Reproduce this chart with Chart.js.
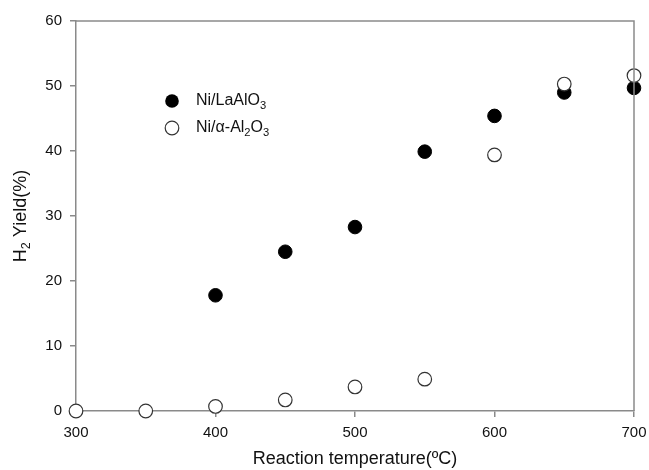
<!DOCTYPE html>
<html>
<head>
<meta charset="utf-8">
<script src="https://cdn.jsdelivr.net/npm/chart.js@4"></script>
<style>
  body { margin: 0; background: #fff; }
  #wrap { width: 649px; height: 470px; }
</style>
</head>
<body>
<div id="wrap"><canvas id="yieldChart" width="649" height="470"></canvas></div>
<script>
// temperatures (ºC) and H2 yield (%) for both catalysts
const tempsLa = [400, 450, 500, 550, 600, 650, 700];
const yieldLa = [17.8, 24.5, 28.3, 39.9, 45.4, 49.0, 49.7];

const tempsAl = [300, 350, 400, 450, 500, 550, 600, 650, 700];
const yieldAl = [0, 0, 0.7, 1.7, 3.7, 4.9, 39.4, 50.3, 51.6];

const xTicks = [300, 400, 500, 600, 700];
const yTicks = [0, 10, 20, 30, 40, 50, 60];

const FONT = "'Liberation Sans', Arial, sans-serif";
const AXIS = '#8a8a8a';

// text with subscripts: parts = [[text, isSub], ...]
function drawRich(ctx, parts, x, y, size) {
    let cx = x;
    parts.forEach(([t, sub]) => {
        ctx.font = (sub ? size * 0.7 : size) + 'px ' + FONT;
        ctx.fillText(t, cx, sub ? y + size * 0.3 : y);
        cx += ctx.measureText(t).width;
    });
    return cx - x;
}
function richWidth(ctx, parts, size) {
    let w = 0;
    parts.forEach(([t, sub]) => {
        ctx.font = (sub ? size * 0.7 : size) + 'px ' + FONT;
        w += ctx.measureText(t).width;
    });
    return w;
}

const extras = {
    id: 'extras',
    afterDraw(chart) {
        const ctx = chart.ctx;
        const a = chart.chartArea;
        ctx.save();
        // box top + right
        ctx.strokeStyle = AXIS;
        ctx.lineWidth = 1.5;
        ctx.beginPath();
        ctx.moveTo(a.left, a.top);
        ctx.lineTo(a.right, a.top);
        ctx.lineTo(a.right, a.bottom);
        ctx.stroke();

        // legend
        const lx = 172, ly = [101, 128];
        ctx.lineWidth = 1.2;
        ctx.beginPath(); ctx.arc(lx, ly[0], 6.8, 0, Math.PI * 2);
        ctx.fillStyle = '#000'; ctx.fill();
        ctx.beginPath(); ctx.arc(lx, ly[1], 6.8, 0, Math.PI * 2);
        ctx.fillStyle = '#fff'; ctx.fill(); ctx.strokeStyle = '#333'; ctx.stroke();
        ctx.fillStyle = '#111';
        ctx.textBaseline = 'middle';
        drawRich(ctx, [['Ni/LaAlO', false], ['3', true]], 196, ly[0], 16);
        drawRich(ctx, [['Ni/\u03B1-Al', false], ['2', true], ['O', false], ['3', true]], 196, ly[1], 16);

        // y title
        const yParts = [['H', false], ['2', true], [' Yield(%)', false]];
        ctx.translate(21, (a.top + a.bottom) / 2);
        ctx.rotate(-Math.PI / 2);
        const w = richWidth(ctx, yParts, 18);
        drawRich(ctx, yParts, -w / 2, 0, 18);
        ctx.restore();
    }
};

new Chart(document.getElementById('yieldChart'), {
    type: 'scatter',
    data: {
        datasets: [
            {
                label: 'Ni/LaAlO3',
                data: tempsLa.map((t, i) => ({ x: t, y: yieldLa[i] })),
                backgroundColor: '#000',
                borderColor: '#000',
                pointRadius: 6.8,
                pointHoverRadius: 6.8,
                order: 1
            },
            {
                label: 'Ni/α-Al2O3',
                data: tempsAl.map((t, i) => ({ x: t, y: yieldAl[i] })),
                backgroundColor: '#fff',
                borderColor: '#333',
                borderWidth: 1.2,
                pointRadius: 6.8,
                pointHoverRadius: 6.8,
                order: 0
            }
        ]
    },
    options: {
        responsive: false,
        animation: false,
        clip: false,
        layout: { padding: { left: 0, right: 15, top: 21, bottom: 0 } },
        plugins: { legend: { display: false }, tooltip: { enabled: false } },
        scales: {
            x: {
                type: 'linear',
                min: 300, max: 700,
                afterBuildTicks: s => { s.ticks = xTicks.map(v => ({ value: v })); },
                afterFit: s => { s.height = 59; s.paddingRight = 0; s.paddingLeft = 0; },
                grid: { drawOnChartArea: false, drawTicks: true, tickLength: 6, color: AXIS, lineWidth: 1.5 },
                border: { display: true, color: AXIS, width: 1.5 },
                ticks: { color: '#111', font: { family: FONT, size: 15 }, padding: 7, maxRotation: 0 },
                title: { display: true, text: 'Reaction temperature(ºC)', color: '#111', font: { family: FONT, size: 18 }, padding: { top: 2, bottom: 0 } }
            },
            y: {
                min: 0, max: 60,
                afterBuildTicks: s => { s.ticks = yTicks.map(v => ({ value: v })); },
                afterFit: s => { s.width = 76; s.paddingTop = 0; s.paddingBottom = 0; },
                grid: { drawOnChartArea: false, drawTicks: true, tickLength: 6, color: AXIS, lineWidth: 1.5 },
                border: { display: true, color: AXIS, width: 1.5 },
                ticks: { color: '#111', font: { family: FONT, size: 15 }, padding: 8 }
            }
        }
    },
    plugins: [extras]
});
</script>
</body>
</html>
